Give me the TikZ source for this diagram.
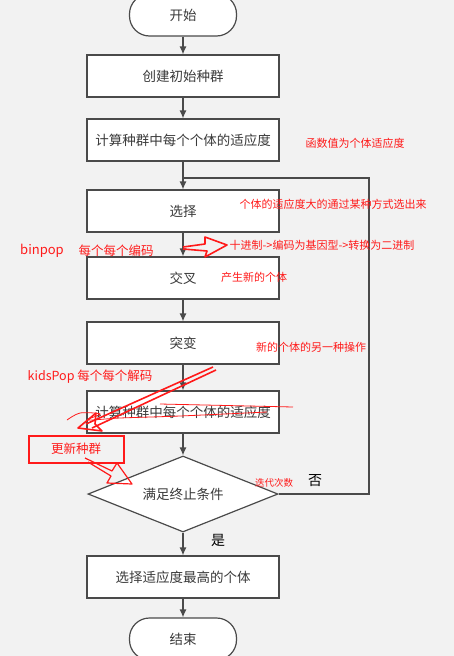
\documentclass[tikz,border=0pt]{standalone}
\usepackage{fontspec}
\setmainfont{Noto Sans CJK SC}
\usetikzlibrary{arrows.meta,shapes.geometric,positioning}
\definecolor{bg}{HTML}{F2F2F2}
\definecolor{edge}{HTML}{4A4A4A}
\definecolor{txt}{HTML}{3A3A3A}
\definecolor{mark}{HTML}{FF1A1A}

\begin{document}
\begin{tikzpicture}[x=1pt,y=-1pt,
  box/.style={draw=edge,fill=white,line width=1.2pt,minimum width=192pt,minimum height=42pt,text=txt,font=\fontsize{13.5}{15}\selectfont},
  term/.style={box,rounded corners=20pt,minimum width=107pt},
  test/.style={box,diamond,aspect=2.5,inner sep=0pt,minimum width=190pt,minimum height=76pt},
  note/.style={text=mark,inner sep=0pt,font=\fontsize{#1}{13}\selectfont},
  note/.default=11,
  link/.style={draw=edge,line width=1.2pt,-{Latex[length=8pt,width=7pt]}},
  scrawl/.style={draw=mark,line width=1.6pt,line join=round}]
  \useasboundingbox (0,0) rectangle (454,656);
  \clip (0,0) rectangle (454,656);
  \fill[bg] (0,0) rectangle (454,656);
  % ---------- flow
  \node[term] (start) at (183,15) {开始};
  \node[box] (init) at (183,76) {创建初始种群};
  \node[box] (fit1) at (183,140) {计算种群中每个个体的适应度};
  \node[box] (sel) at (183,211) {选择};
  \node[box] (cross) at (183,278) {交叉};
  \node[box] (mut) at (183,343) {突变};
  \node[box] (fit2) at (183,412) {计算种群中每个个体的适应度};
  \node[test] (cond) at (183,494) {满足终止条件};
  \node[box] (best) at (183,577) {选择适应度最高的个体};
  \node[term] (stop) at (183,639) {结束};
  \coordinate (join) at (183,178);
  \coordinate (looptop) at (369,178);
  \draw[link] (start) -- (init);
  \draw[link] (init) -- (fit1);
  \draw[link] (fit1) -- (sel);
  \draw[link] (sel) -- (cross);
  \draw[link] (cross) -- (mut);
  \draw[link] (mut) -- (fit2);
  \draw[link] (fit2) -- (cond);
  \draw[link] (cond) -- (best);
  \draw[link] (best) -- (stop);
  \draw[draw=edge,line width=1.2pt] (cond.east) -| (looptop) -- (join);
  \node[font=\fontsize{14}{16}\selectfont] (yes) at (218,540) {是};
  \node[font=\fontsize{14}{16}\selectfont] (no) at (315,481) {否};
  % ---------- red notes
  \node[note] (n1) at (355,143) {函数值为个体适应度};
  \node[note] (n2) at (333,204) {个体的适应度大的通过某种方式选出来};
  \node[note=13] (n3) at (42,251) {binpop};
  \node[note=12.5] (n4) at (116,251) {每个每个编码};
  \node[note] (n5) at (322,245) {十进制->编码为基因型->转换为二进制};
  \node[note] (n6) at (254,277) {产生新的个体};
  \node[note] (n7) at (311,347) {新的个体的另一种操作};
  \node[note=12.5] (n8) at (90,377) {kidsPop 每个每个解码};
  \node[note=12.5,draw=mark,line width=2pt,minimum width=95pt,minimum height=27pt] (upd) at (76,449) {更新种群};
  \node[note=9.5] (n9) at (274,483) {迭代次数};
  % ---------- scribbles
  \draw[scrawl] (183,247) -- (205,244) -- (205,237) -- (227,245) -- (205,257) -- (207,251) -- (183,249);
  \draw[scrawl] (213,367) -- (86,424) (216,370) -- (92,428);
  \draw[scrawl] (78,428) -- (102,431) -- (95,424) -- (96,413) -- cycle;
  \draw[draw=mark,line width=0.8pt] plot[smooth] coordinates {(67,420) (80,413) (100,414) (88,420) (120,418) (180,416) (267,412)};
  \draw[draw=mark,line width=0.8pt] (160,404) -- (293,407);
  \draw[scrawl,line width=1.2pt] (85,458) -- (112,471) -- (117,463) -- (132,484) -- (107,483) -- (111,476) -- (88,462);
\end{tikzpicture}
\end{document}
